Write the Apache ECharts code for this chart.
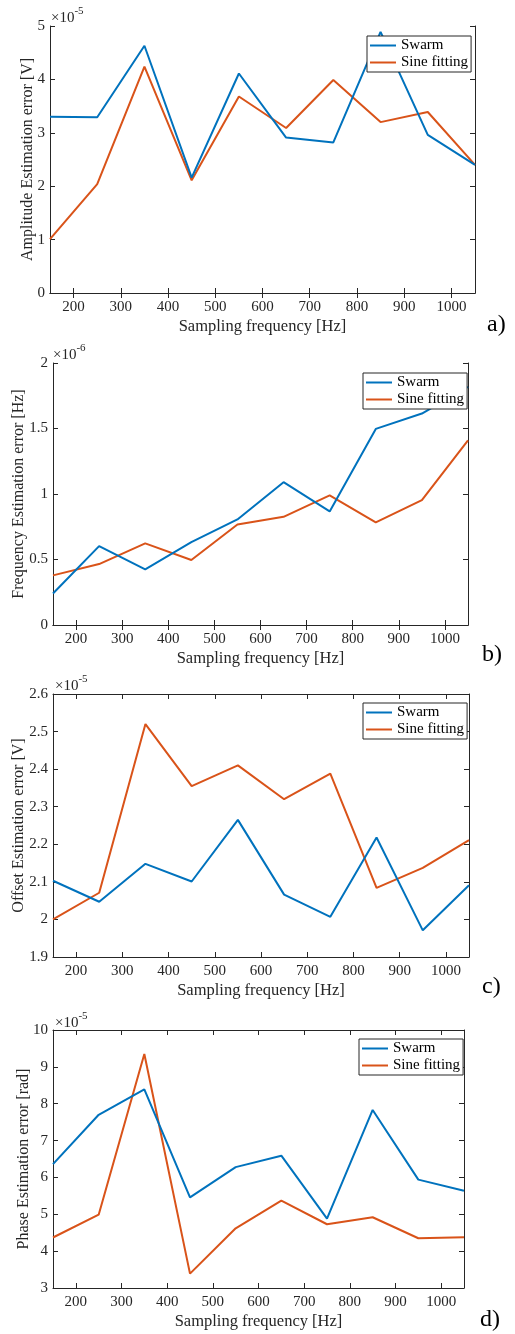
<!DOCTYPE html>
<html>
<head>
<meta charset="utf-8">
<script src="https://cdn.jsdelivr.net/npm/echarts@6/dist/echarts.min.js"></script>
<style>html,body{margin:0;padding:0;background:#fff;}#c{width:515px;height:1334px;}</style>
</head>
<body>
<div id="c"></div>
<script>
// ---- data ----
const freqs = [150, 250, 350, 450, 550, 650, 750, 850, 950, 1050];
const xTickLabels = [200, 300, 400, 500, 600, 700, 800, 900, 1000];
const seriesNames = ['Swarm', 'Sine fitting'];

// a) amplitude error (x1e-5 V)
const ampSwarm = [3.30, 3.29, 4.63, 2.16, 4.11, 2.91, 2.82, 4.89, 2.96, 2.40];
const ampSine  = [1.01, 2.04, 4.24, 2.11, 3.68, 3.09, 3.99, 3.20, 3.39, 2.40];
const ampTicks = [0, 1, 2, 3, 4, 5];

// b) frequency error (x1e-6 Hz)
const freqSwarm = [0.241, 0.602, 0.424, 0.633, 0.806, 1.09, 0.867, 1.497, 1.614, 1.817];
const freqSine  = [0.379, 0.465, 0.623, 0.496, 0.767, 0.826, 0.989, 0.783, 0.953, 1.41];
const freqTicks = [0, 0.5, 1, 1.5, 2];

// c) offset error (x1e-5 V)
const offSwarm = [2.103, 2.047, 2.148, 2.101, 2.265, 2.066, 2.007, 2.218, 1.971, 2.091];
const offSine  = [2.000, 2.071, 2.520, 2.355, 2.410, 2.320, 2.388, 2.084, 2.137, 2.211];
const offTicks = [1.9, 2, 2.1, 2.2, 2.3, 2.4, 2.5, 2.6];

// d) phase error (x1e-5 rad)
const phSwarm = [6.36, 7.70, 8.39, 5.46, 6.28, 6.59, 4.88, 7.83, 5.94, 5.64];
const phSine  = [4.37, 4.99, 9.35, 3.39, 4.62, 5.37, 4.73, 4.92, 4.35, 4.38];
const phTicks = [3, 4, 5, 6, 7, 8, 9, 10];

const yTitles = ['Amplitude Estimation error [V]', 'Frequency Estimation error [Hz]',
                 'Offset Estimation error [V]', 'Phase Estimation error [rad]'];
const exponents = ['-5', '-6', '-5', '-5'];
const panelLabels = ['a)', 'b)', 'c)', 'd)'];
const xTitle = 'Sampling frequency [Hz]';

// ---- layout ----
const FONT = '"Liberation Serif", "Times New Roman", serif';
const TXT = '#262626';
const C1 = '#0072BD', C2 = '#D95319';

const panels = [
  { sw: ampSwarm, si: ampSine, ticks: ampTicks, grid: {left: 50, top: 26, right: 40, height: 267}, nameGap: 14,
    legend: {left: 367, top: 36}, exp: {left: 51, top: 6}, lab: {left: 487, top: 313} },
  { sw: freqSwarm, si: freqSine, ticks: freqTicks, grid: {left: 53, top: 363, right: 47, height: 262}, nameGap: 26,
    legend: {left: 363, top: 373}, exp: {left: 53, top: 343}, lab: {left: 482, top: 643} },
  { sw: offSwarm, si: offSine, ticks: offTicks, grid: {left: 53, top: 694, right: 46, height: 263}, nameGap: 26,
    legend: {left: 363, top: 703}, exp: {left: 55, top: 674}, lab: {left: 482, top: 975} },
  { sw: phSwarm, si: phSine, ticks: phTicks, grid: {left: 53, top: 1030, right: 51, height: 258}, nameGap: 21,
    legend: {left: 359, top: 1039}, exp: {left: 55, top: 1011}, lab: {left: 480, top: 1308} }
];

const option = {
  backgroundColor: '#fff',
  animation: false,
  grid: [], xAxis: [], yAxis: [], series: [], legend: [], title: [], graphic: []
};

const fmt = v => String(Math.round(v * 1000) / 1000);

panels.forEach((p, i) => {
  option.grid.push(Object.assign({containLabel: false, outerBoundsMode: 'none'}, p.grid));
  const ymin = p.ticks[0], ymax = p.ticks[p.ticks.length - 1];
  const axLine = {show: true, lineStyle: {color: TXT, width: 1}};
  // bottom x
  option.xAxis.push({
    type: 'value', gridIndex: i, min: 150, max: 1050, position: 'bottom',
    name: xTitle, nameLocation: 'middle', nameGap: 25, nameMoveOverlap: false,
    nameTextStyle: {fontFamily: FONT, fontSize: 16.5, color: TXT},
    axisLine: axLine,
    axisTick: {show: true, inside: true, length: 5, customValues: xTickLabels, lineStyle: {color: TXT}},
    axisLabel: {show: true, customValues: xTickLabels, margin: 7, fontFamily: FONT, fontSize: 15, color: TXT, formatter: fmt},
    splitLine: {show: false}
  });
  // top x (box)
  option.xAxis.push({
    type: 'value', gridIndex: i, min: 150, max: 1050, position: 'top',
    axisLine: axLine,
    axisTick: {show: true, inside: true, length: 5, customValues: xTickLabels, lineStyle: {color: TXT}},
    axisLabel: {show: false}, splitLine: {show: false}
  });
  // left y
  option.yAxis.push({
    type: 'value', gridIndex: i, min: ymin, max: ymax, position: 'left',
    name: yTitles[i], nameLocation: 'middle', nameGap: p.nameGap, nameMoveOverlap: false,
    nameTextStyle: {fontFamily: FONT, fontSize: 16, color: TXT},
    axisLine: axLine,
    axisTick: {show: true, inside: true, length: 5, customValues: p.ticks, lineStyle: {color: TXT}},
    axisLabel: {show: true, customValues: p.ticks, margin: 5, fontFamily: FONT, fontSize: 15, color: TXT, formatter: fmt},
    splitLine: {show: false}
  });
  // right y (box)
  option.yAxis.push({
    type: 'value', gridIndex: i, min: ymin, max: ymax, position: 'right',
    axisLine: axLine,
    axisTick: {show: true, inside: true, length: 5, customValues: p.ticks, lineStyle: {color: TXT}},
    axisLabel: {show: false}, splitLine: {show: false}
  });
  const xi = i * 2, yi = i * 2;
  option.series.push({
    type: 'line', name: seriesNames[0], xAxisIndex: xi, yAxisIndex: yi,
    data: freqs.map((f, k) => [f, p.sw[k]]), symbol: 'none',
    lineStyle: {color: C1, width: 2}, itemStyle: {color: C1}, z: 3
  });
  option.series.push({
    type: 'line', name: seriesNames[1], xAxisIndex: xi, yAxisIndex: yi,
    data: freqs.map((f, k) => [f, p.si[k]]), symbol: 'none',
    lineStyle: {color: C2, width: 2}, itemStyle: {color: C2}, z: 2
  });
  option.legend.push({
    data: seriesNames, orient: 'vertical', left: p.legend.left, top: p.legend.top,
    icon: 'rect', itemWidth: 26, itemHeight: 2, itemGap: 0, padding: [1, 3, 1, 3],
    backgroundColor: '#fff', borderColor: TXT, borderWidth: 1, borderRadius: 0,
    selectedMode: false,
    textStyle: {fontFamily: FONT, fontSize: 15, color: '#000', lineHeight: 17}
  });
  option.title.push({
    left: p.exp.left, top: p.exp.top, padding: 0,
    text: '{a|×10}{b|' + exponents[i] + '}',
    textStyle: {
      fontWeight: 'normal',
      rich: {
        a: {fontFamily: FONT, fontSize: 15, fontWeight: 'normal', color: TXT, verticalAlign: 'bottom', lineHeight: 20},
        b: {fontFamily: FONT, fontSize: 11, fontWeight: 'normal', color: TXT, verticalAlign: 'top', lineHeight: 20}
      }
    }
  });
  option.graphic.push({
    type: 'text', left: p.lab.left, top: p.lab.top,
    style: {text: panelLabels[i], font: '24px ' + FONT, fill: '#000'}
  });
});

const chart = echarts.init(document.getElementById('c'), null, {renderer: 'canvas'});
chart.setOption(option);
</script>
</body>
</html>
